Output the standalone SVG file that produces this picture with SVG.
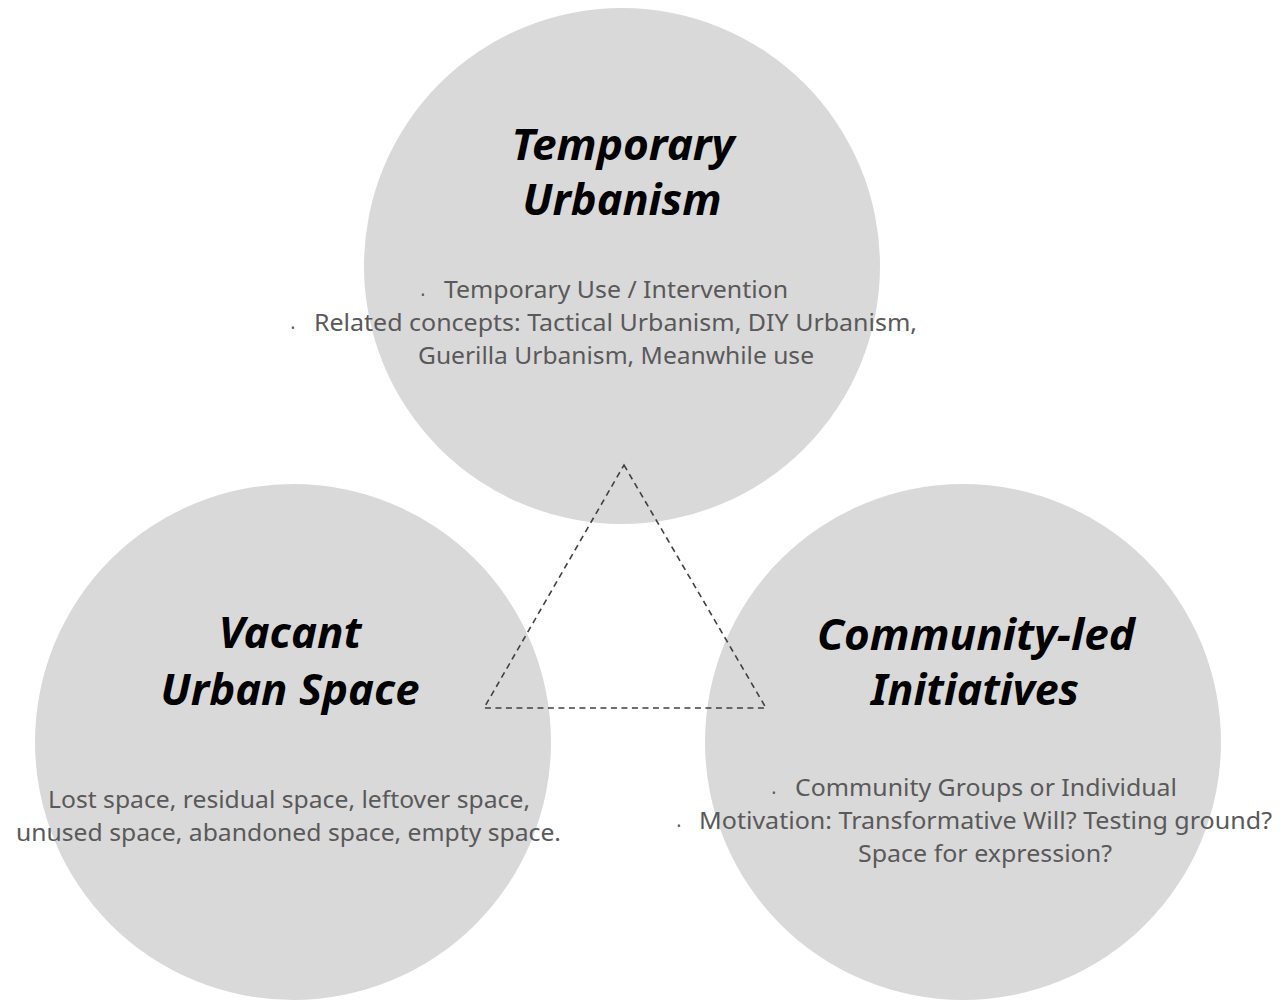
<svg xmlns="http://www.w3.org/2000/svg" width="1281" height="1000" viewBox="0 0 1281 1000">
<style>
.c{fill:#d9d9d9}
.t{font-family:"Source Sans Pro","Noto Sans","Liberation Sans",sans-serif;font-weight:bold;font-style:italic;font-size:43px;fill:#000;text-anchor:middle}
.b{font-family:"Source Sans Pro","Noto Sans","Liberation Sans",sans-serif;font-size:24px;fill:#595959}
.d{font-family:"Noto Sans","Liberation Sans",sans-serif;font-size:10px;fill:#595959}
.e{fill:none;stroke:#404040;stroke-width:1.6;stroke-dasharray:6,4.5}
</style>
<rect width="1281" height="1000" fill="#fff"/>
<g id="temporary-urbanism">
<circle class="c" cx="622" cy="266" r="258"/>
<text class="t" x="623" y="160" textLength="223" lengthAdjust="spacingAndGlyphs">Temporary</text>
<text class="t" x="622" y="215" textLength="199" lengthAdjust="spacingAndGlyphs">Urbanism</text>
<text class="d" x="421" y="299">•</text>
<text class="b" x="444" y="298" textLength="344" lengthAdjust="spacingAndGlyphs">Temporary Use / Intervention</text>
<text class="d" x="291" y="332">•</text>
<text class="b" x="314" y="331" textLength="603" lengthAdjust="spacingAndGlyphs">Related concepts: Tactical Urbanism, DIY Urbanism,</text>
<text class="b" x="418" y="364" textLength="396" lengthAdjust="spacingAndGlyphs">Guerilla Urbanism, Meanwhile use</text>
</g>
<g id="vacant-urban-space">
<circle class="c" cx="293" cy="742" r="258"/>
<text class="t" x="290" y="648" textLength="143" lengthAdjust="spacingAndGlyphs">Vacant</text>
<text class="t" x="290" y="705" textLength="259" lengthAdjust="spacingAndGlyphs">Urban Space</text>
<text class="b" x="48" y="808" textLength="482" lengthAdjust="spacingAndGlyphs">Lost space, residual space, leftover space,</text>
<text class="b" x="16" y="841" textLength="545" lengthAdjust="spacingAndGlyphs">unused space, abandoned space, empty space.</text>
</g>
<g id="community-led-initiatives">
<circle class="c" cx="963" cy="742" r="258"/>
<text class="t" x="976" y="650" textLength="318" lengthAdjust="spacingAndGlyphs">Community-led</text>
<text class="t" x="975" y="705" textLength="208" lengthAdjust="spacingAndGlyphs">Initiatives</text>
<text class="d" x="772" y="797">•</text>
<text class="b" x="795" y="796" textLength="382" lengthAdjust="spacingAndGlyphs">Community Groups or Individual</text>
<text class="d" x="677" y="830">•</text>
<text class="b" x="699" y="829" textLength="573" lengthAdjust="spacingAndGlyphs">Motivation: Transformative Will? Testing ground?</text>
<text class="b" x="858" y="862" textLength="254" lengthAdjust="spacingAndGlyphs">Space for expression?</text>
</g>
<g id="connectors">
<path class="e" d="M624 465 L766 708 L484 708 Z"/>
</g>
</svg>
